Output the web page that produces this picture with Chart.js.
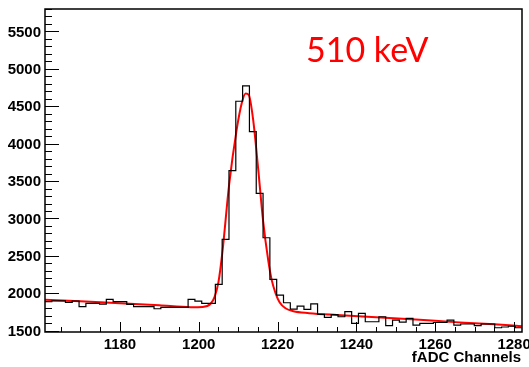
<!DOCTYPE html>
<html>
<head>
<meta charset="utf-8">
<script src="https://cdn.jsdelivr.net/npm/chart.js@4.4.1/dist/chart.umd.min.js"></script>
<style>
  html, body { margin: 0; padding: 0; background: #fff; }
  #wrap { width: 529px; height: 367px; position: relative; }
</style>
</head>
<body>
<div id="wrap"><canvas id="specChart"></canvas></div>
<script>
// histogram binning (70 bins between 1161 and 1282)
const binStart = 1161;
const binEnd = 1282;
const counts = [
    1888, 1900, 1900, 1880, 1897, 1821, 1866, 1866, 1855, 1920,
    1888, 1888, 1853, 1821, 1821, 1821, 1794, 1812, 1812, 1812,
    1812, 1920, 1895, 1866, 1866, 2120, 2722, 3639, 4567, 4772,
    4161, 3337, 2743, 2187, 1977, 1874, 1790, 1830, 1786, 1860,
    1719, 1679, 1714, 1687, 1754, 1599, 1733, 1620, 1620, 1687,
    1567, 1643, 1615, 1666, 1576, 1599, 1599, 1610, 1610, 1643,
    1576, 1590, 1590, 1567, 1590, 1590, 1540, 1550, 1560, 1540
];

// red fit curve
const fitX = [1161, 1170, 1180, 1190, 1198, 1201, 1203, 1204, 1205, 1206,
    1207.7, 1209.6, 1210.9, 1211.9, 1212.7, 1213.8, 1215.1, 1216.3, 1217.6, 1218.5,
    1219.5, 1220.5, 1222, 1224, 1228, 1235, 1245, 1255, 1265, 1275, 1282];
const fitY = [1915, 1893, 1868, 1840, 1815, 1818, 1860, 1950, 2150, 2550,
    3450, 4180, 4540, 4670, 4650, 4320, 3650, 2980, 2450, 2180,
    2000, 1880, 1800, 1760, 1735, 1710, 1680, 1650, 1615, 1585, 1560];

const xTicks = [1180, 1200, 1220, 1240, 1260, 1280];
const yTicks = [1500, 2000, 2500, 3000, 3500, 4000, 4500, 5000, 5500];
const xMinorStep = 5;
const yMinorStep = 100;
const xTitle = "fADC Channels";
const peakLabel = "510 keV";

const binWidth = (binEnd - binStart) / counts.length;
const histPoints = counts.map((c, i) => ({x: binStart + i * binWidth, y: c}));
histPoints.push({x: binEnd, y: counts[counts.length - 1]});
const fitPoints = fitX.map((x, i) => ({x: x, y: fitY[i]}));

const rootAxes = {
    id: "rootAxes",
    afterDatasetsDraw(chart) {
        const c = chart.ctx;
        const a = chart.chartArea;
        const xs = chart.scales.x;
        const ys = chart.scales.y;
        c.save();
        c.strokeStyle = "#000";
        c.lineWidth = 1;

        // minor ticks
        c.beginPath();
        for (let v = Math.ceil(xs.min / xMinorStep) * xMinorStep; v <= xs.max; v += xMinorStep) {
            const px = Math.round(xs.getPixelForValue(v)) + 0.5;
            const len = xTicks.includes(v) ? 10 : 5;
            c.moveTo(px, a.bottom);
            c.lineTo(px, a.bottom - len);
        }
        for (let v = Math.ceil(ys.min / yMinorStep) * yMinorStep; v <= ys.max; v += yMinorStep) {
            const py = Math.round(ys.getPixelForValue(v)) + 0.5;
            const len = yTicks.includes(v) ? 14 : 7;
            c.moveTo(a.left, py);
            c.lineTo(a.left + len, py);
        }
        c.stroke();

        // frame
        c.lineWidth = 1.5;
        c.strokeRect(a.left, a.top, a.right - a.left, a.bottom - a.top);

        // labels
        c.fillStyle = "#000";
        c.font = "bold 15px 'Liberation Sans', Arial, sans-serif";
        c.textAlign = "right";
        c.textBaseline = "middle";
        yTicks.forEach(v => c.fillText(String(v), 41, ys.getPixelForValue(v) + 1));
        c.textAlign = "center";
        c.textBaseline = "alphabetic";
        xTicks.forEach(v => c.fillText(String(v), xs.getPixelForValue(v), 349));
        c.textAlign = "right";
        c.fillText(xTitle, 521, 362);

        c.fillStyle = "#ff0000";
        c.font = "34px Lato, 'Open Sans', sans-serif";
        c.textAlign = "left";
        c.fillText(peakLabel, 306, 62);
        c.restore();
    }
};

new Chart(document.getElementById("specChart"), {
    type: "line",
    data: {
        datasets: [
            {
                label: "data",
                data: histPoints,
                stepped: "before",
                borderColor: "#000",
                borderWidth: 1.2,
                pointRadius: 0,
                fill: false
            },
            {
                label: "fit",
                data: fitPoints,
                cubicInterpolationMode: "monotone",
                borderColor: "#ff0000",
                borderWidth: 2,
                pointRadius: 0,
                fill: false
            }
        ]
    },
    options: {
        responsive: true,
        maintainAspectRatio: false,
        animation: false,
        layout: {padding: {left: 45, top: 9, right: 7, bottom: 35}},
        plugins: {legend: {display: false}, tooltip: {enabled: false}},
        scales: {
            x: {type: "linear", min: binStart, max: binEnd, display: false},
            y: {type: "linear", min: 1483, max: 5800, display: false}
        }
    },
    plugins: [rootAxes]
});
</script>
</body>
</html>
